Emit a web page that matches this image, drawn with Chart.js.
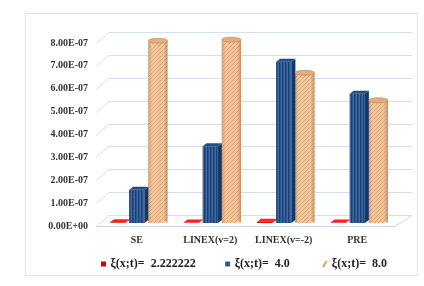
<!DOCTYPE html>
<html><head><meta charset="utf-8">
<script src="https://cdn.jsdelivr.net/npm/chart.js@4"></script>
<style>
html,body{margin:0;padding:0;background:#fff;}
#wrap{position:relative;width:424px;height:286px;}
#frame{position:absolute;left:25px;top:13px;width:393px;height:263px;border:1.5px solid #dde6f0;box-sizing:border-box;}
canvas{position:absolute;left:0;top:0;}
</style></head>
<body><div id="wrap"><div id="frame"></div><canvas id="c" width="424" height="286"></canvas></div>
<script>
const categories = ['SE', 'LINEX(v=2)', 'LINEX(v=-2)', 'PRE'];
const seriesNames = ['ξ(x;t)=  2.222222', 'ξ(x;t)=  4.0', 'ξ(x;t)=  8.0'];
const seriesA = [0.03e-7, 0.02e-7, 0.05e-7, 0.02e-7];
const seriesB = [1.45e-7, 3.35e-7, 7.05e-7, 5.65e-7];
const seriesC = [7.9e-7, 7.95e-7, 6.5e-7, 5.3e-7];
const yTickLabels = ['0.00E+00','1.00E-07','2.00E-07','3.00E-07','4.00E-07','5.00E-07','6.00E-07','7.00E-07','8.00E-07'];

function makePattern(w, h, draw) {
  const c = document.createElement('canvas'); c.width = w; c.height = h;
  const g = c.getContext('2d'); draw(g);
  return document.createElement('canvas').getContext('2d').createPattern(c, 'repeat');
}
const bluePat = makePattern(3, 2, g => {
  g.fillStyle = '#2b5791'; g.fillRect(0,0,3,2);
  g.fillStyle = '#1c3f6d'; g.fillRect(0,0,1,2);
  g.fillStyle = '#3d6aa6'; g.fillRect(2,0,1,2);
});
const tanPat = makePattern(4, 4, g => {
  g.fillStyle = '#f2c79c'; g.fillRect(0,0,4,4);
  g.fillStyle = '#db9d69';
  g.fillRect(3,0,1,1); g.fillRect(2,1,1,1); g.fillRect(1,2,1,1); g.fillRect(0,3,1,1);
});

const SERIF = '"Liberation Serif", "Times New Roman", serif';

const gridPlugin = {
  id: 'grid3d',
  beforeDatasetsDraw(chart) {
    const {ctx, chartArea: a, scales: {y}} = chart;
    ctx.save();
    ctx.strokeStyle = '#d3dff0'; ctx.lineWidth = 1;
    y.ticks.forEach(t => {
      const py = Math.round(y.getPixelForValue(t.value)) + 0.5;
      ctx.beginPath();
      ctx.moveTo(a.left - 4, py);
      ctx.lineTo(a.left + 9, py - 11);
      ctx.lineTo(a.right + 18, py - 11);
      ctx.stroke();
    });
    const y0 = Math.round(y.getPixelForValue(0)) + 0.5;
    ctx.strokeStyle = '#c9d6e8';
    ctx.beginPath();
    ctx.moveTo(a.left - 4, y0); ctx.lineTo(a.right + 1, y0); ctx.lineTo(a.right + 18, y0 - 11);
    ctx.stroke();
    ctx.restore();
  }
};

const sideColors = ['#9a0000', '#163763'];
const topColors = ['#ff2020', '#234d85'];
const barPlugin = {
  id: 'bar3d',
  beforeDatasetsDraw(chart) {
    // bars stand a little behind the front edge of the floor
    chart.ctx.save();
    chart.ctx.translate(0, -3);
  },
  afterDatasetsDraw(chart) {
    const ctx = chart.ctx, d = 4, e = 3;
    chart.data.datasets.forEach((ds, i) => {
      chart.getDatasetMeta(i).data.forEach(bar => {
        const {x, y, base, width} = bar.getProps(['x','y','base','width'], true);
        const L = x - width/2, R = x + width/2;
        if (i === 2) {
          ctx.fillStyle = tanPat;
          ctx.fillRect(R, y - 1.5, d, base - y);
          const gr = ctx.createLinearGradient(L, 0, R + d, 0);
          gr.addColorStop(0, 'rgba(150,85,35,0.35)');
          gr.addColorStop(0.3, 'rgba(255,255,255,0.05)');
          gr.addColorStop(0.6, 'rgba(255,255,255,0)');
          gr.addColorStop(1, 'rgba(150,85,35,0.45)');
          ctx.fillStyle = gr;
          ctx.fillRect(L, y - 1.5, R + d - L, base - y + 1.5);
          ctx.beginPath();
          ctx.ellipse(x + d/2, y - 1.5, (width + d)/2, 2.5, 0, 0, Math.PI*2);
          ctx.fillStyle = '#e2ad80'; ctx.fill();
          ctx.strokeStyle = '#c58b5c'; ctx.lineWidth = 0.7; ctx.stroke();
        } else {
          ctx.fillStyle = sideColors[i];
          ctx.beginPath();
          ctx.moveTo(R, y); ctx.lineTo(R + d, y - e); ctx.lineTo(R + d, base - e); ctx.lineTo(R, base);
          ctx.closePath(); ctx.fill();
          ctx.fillStyle = topColors[i];
          ctx.beginPath();
          ctx.moveTo(L, y); ctx.lineTo(R, y); ctx.lineTo(R + d, y - e); ctx.lineTo(L + d, y - e);
          ctx.closePath(); ctx.fill();
        }
      });
    });
    ctx.restore();
  }
};

const legendFitPlugin = {
  id: 'legendFit',
  afterInit(chart) {
    const lg = chart.legend;
    if (!lg) return;
    const orig = lg.fit.bind(lg);
    lg.fit = function () { orig(); this.height = 22; };
  }
};

new Chart(document.getElementById('c'), {
  type: 'bar',
  data: {
    labels: categories,
    datasets: [
      {label: seriesNames[0], data: seriesA, backgroundColor: '#e00000'},
      {label: seriesNames[1], data: seriesB, backgroundColor: bluePat},
      {label: seriesNames[2], data: seriesC, backgroundColor: tanPat}
    ]
  },
  options: {
    responsive: false,
    devicePixelRatio: 1,
    animation: false,
    datasets: {bar: {categoryPercentage: 0.78, barPercentage: 0.8}},
    layout: {padding: {left: 40, right: 30, top: 43, bottom: 10}},
    scales: {
      x: {
        grid: {display: false, drawTicks: false}, border: {display: false},
        ticks: {color: '#333', font: {family: SERIF, size: 10, weight: 'bold'}, padding: 8, maxRotation: 0}
      },
      y: {
        min: 0, max: 8e-7,
        afterFit(axis) { axis.width = 60; },
        grid: {display: false, drawTicks: false}, border: {display: false},
        ticks: {stepSize: 1e-7, color: '#333', padding: 12,
          font: {family: SERIF, size: 10, weight: 'bold'},
          callback: (v, i) => yTickLabels[i]}
      }
    },
    plugins: {
      tooltip: {enabled: false},
      legend: {
        position: 'bottom',
        align: 'end',
        labels: {
          color: '#222', font: {family: SERIF, size: 12, weight: 'bold', lineHeight: 1.2},
          usePointStyle: true, boxWidth: 2, boxHeight: 5, padding: 4,
          generateLabels(chart) {
            const items = Chart.defaults.plugins.legend.labels.generateLabels(chart);
            const fills = ['#e00000', '#2f5c98', '#e8a060'];
            const pads = ['         ', '          ', ' '];
            items.forEach((it, i) => {
              it.text = it.text + pads[i];
              it.fillStyle = fills[i]; it.strokeStyle = fills[i]; it.lineWidth = 0;
              it.pointStyle = 'rect';
              if (i === 2) { it.pointStyle = 'line'; it.rotation = -60; it.lineWidth = 2; }
            });
            return items;
          }
        }
      }
    }
  },
  plugins: [gridPlugin, barPlugin, legendFitPlugin]
});
</script>
</body></html>
